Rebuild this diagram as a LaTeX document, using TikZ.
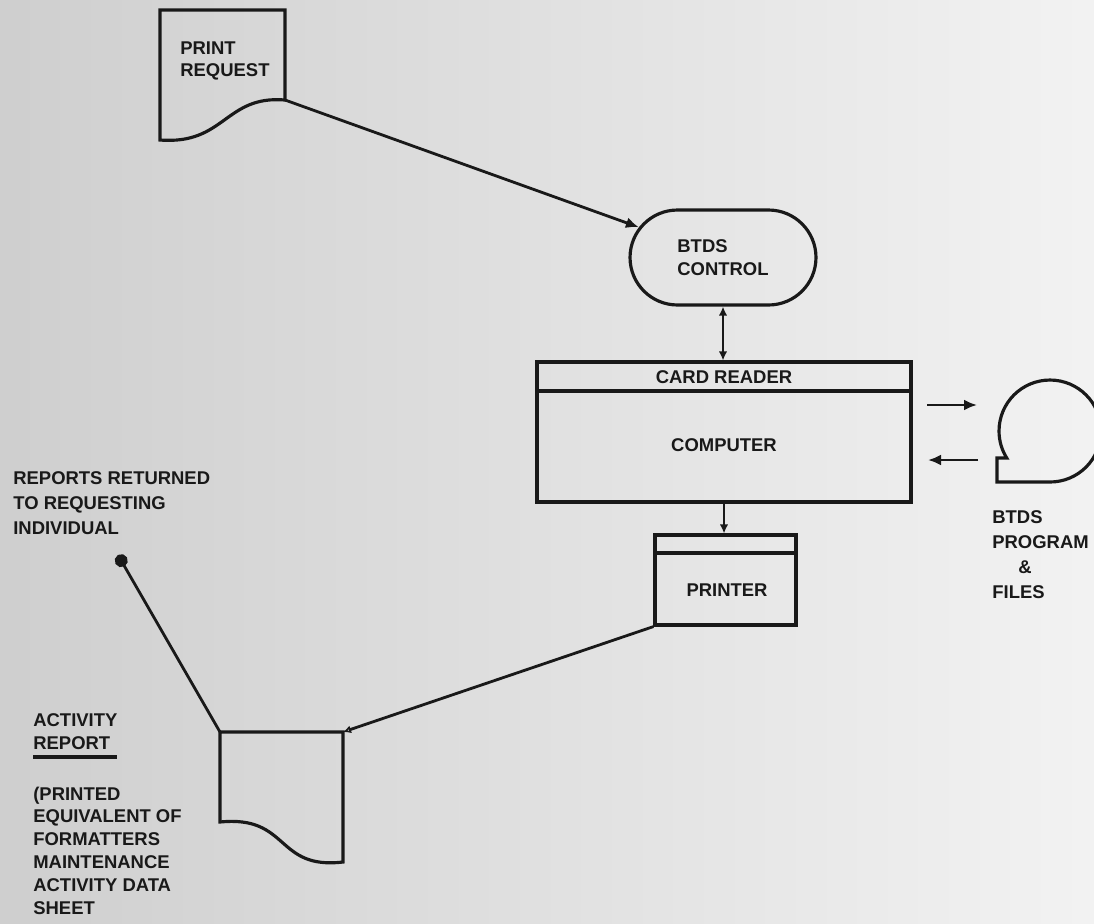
\documentclass[tikz,border=0pt]{standalone}
\usepackage{fontspec}
\setmainfont{Liberation Sans}
\usetikzlibrary{arrows.meta,positioning,shapes.misc}

\tikzset{
    lbl/.style={font=\bfseries\fontsize{10.5}{13}\selectfont, align=left, inner sep=0pt, text=black!90},
    wide/.style={font=\bfseries\fontsize{10.5}{14.2}\selectfont},
    box/.style={draw=black!90, line width=1.8pt},
    flow/.style={draw=black!90, line width=1.6pt, -{Latex[length=0.26cm,width=0.22cm]}},
    tip/.style={-{Latex[length=0.18cm,width=0.17cm]}},
}

\begin{document}
\begin{tikzpicture}[x=0.02cm, y=-0.02cm]

            % page
            \useasboundingbox (0,0) rectangle (1094,923);
            \shade[left color=black!19, right color=black!5] (0,0) rectangle (1094,923);

            % print request
            \draw[box] (160,140) .. controls (225,145) and (225,95) .. (285,100)
                -- (285,10) -- (160,10) -- cycle;
            \coordinate (preq) at (285,100);
            \node[lbl, anchor=west] (preqlbl) at (180,61) {PRINT\\REQUEST};

            % control
            \node[box, rounded rectangle, minimum width=3.72cm, minimum height=1.9cm, lbl]
                (ctrl) at (723,257.5) {BTDS\\CONTROL};

            % computer
            \node[box, minimum width=7.48cm, minimum height=2.8cm] (comp) at (724,432) {};
            \draw[box] (comp.west |- 0,391) -- (comp.east |- 0,391);
            \node[lbl] (cardrdr) at (724,377) {CARD READER};
            \node[lbl] (complbl) at (724,445) {COMPUTER};

            % printer
            \node[box, minimum width=2.82cm, minimum height=1.8cm] (prn) at (725.5,580) {};
            \draw[box] (prn.west |- 0,553) -- (prn.east |- 0,553);
            \node[lbl] (prnlbl) at (727,590) {PRINTER};

            % disk
            \draw[box] (1050,482) arc[start angle=-90, end angle=212, radius=1.02cm]
                -| (997,482) -- cycle;
            \node[lbl, wide, anchor=west] (disklbl) at (992,554.5)
                {BTDS\\PROGRAM\\\hspace*{0.52cm}\&\\FILES};

            % activity report
            \draw[box] (220,822) .. controls (290,815) and (275,870) .. (343,862)
                -- (343,732) -- (220,732) -- cycle;
            \coordinate (rep-in) at (343,732);
            \coordinate (rep-out) at (220,732);
            \coordinate (ret) at (118,555);

            % connectors
            \coordinate (wr-a) at (927,405);
            \coordinate (wr-b) at (977,405);
            \coordinate (rd-a) at (978,460);
            \coordinate (rd-b) at (928,460);
            \draw[flow] (preq) -- (ctrl);
            \draw[flow, {Latex[length=0.18cm,width=0.17cm]}-{Latex[length=0.18cm,width=0.17cm]}]
                (ctrl.south) -- (ctrl.south |- comp.north);
            \draw[flow, tip] (comp.south) -- (comp.south |- prn.north);
            \draw[flow] (wr-a) -- (wr-b);
            \draw[flow] (rd-a) -- (rd-b);
            \draw[flow, -{Latex[open,length=0.16cm,width=0.16cm]}] (prn.south west) -- (rep-in);
            \draw[flow, -{Circle[length=0.26cm]}] (rep-out) -- (ret);

            % labels
            \node[lbl, wide, anchor=west] (retlbl) at (13,503)
                {REPORTS RETURNED\\TO REQUESTING\\INDIVIDUAL};
            \node[lbl, anchor=west] (actlbl) at (33,731.5) {ACTIVITY\\REPORT};
            \draw[line width=1.8pt, black!90] (33,757) -- (117,757);
            \node[lbl, anchor=west] (actnote) at (33,850.5)
                {(PRINTED\\EQUIVALENT OF\\FORMATTERS\\MAINTENANCE\\ACTIVITY DATA\\SHEET};

\end{tikzpicture}
\end{document}
